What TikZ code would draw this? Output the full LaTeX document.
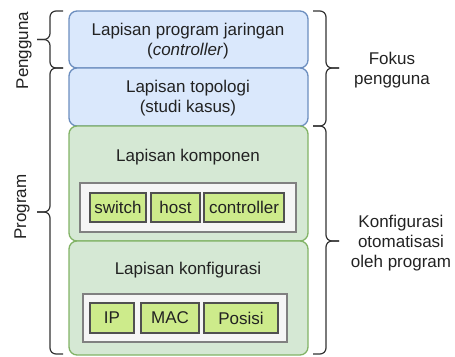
\documentclass[tikz,border=0pt]{standalone}
\usepackage{fontspec}
\setmainfont{Liberation Sans}
\definecolor{bluefill}{HTML}{DAE8FC}
\definecolor{blueline}{HTML}{6C8EBF}
\definecolor{greenfill}{HTML}{D5E8D4}
\definecolor{greenline}{HTML}{82B366}
\definecolor{grayfill}{HTML}{F5F5F5}
\definecolor{grayline}{HTML}{808080}
\definecolor{limefill}{HTML}{CDEB8B}
\definecolor{limeline}{HTML}{505050}
\definecolor{txt}{HTML}{222222}
\begin{document}
\begin{tikzpicture}[x=1pt,y=-1pt,
  every node/.style={text=txt, font=\fontsize{17}{20}\selectfont, inner sep=0pt},
  bluelayer/.style={draw=blueline, fill=bluefill, line width=1.3pt, rounded corners=8pt},
  greenlayer/.style={draw=greenline, fill=greenfill, line width=1.3pt, rounded corners=8pt},
  graybox/.style={draw=grayline, fill=grayfill, line width=1.6pt},
  item/.style={draw=limeline, fill=limefill, line width=1.4pt},
  bracepath/.style={draw=black!80, line width=1.2pt, rounded corners=6pt},
  label/.style={align=center}]
\useasboundingbox (0,0) rectangle (455,356);

% layers
\node[bluelayer, minimum width=239pt, minimum height=57pt] (l1) at (188.5,39.5) {};
\node[bluelayer, minimum width=239pt, minimum height=58pt] (l2) at (188.5,97) {};
\node[greenlayer, minimum width=239pt, minimum height=115pt] (l3) at (188.5,183.5) {};
\node[greenlayer, minimum width=239pt, minimum height=114pt] (l4) at (188.5,298) {};

\node[label] (t1) at (188,41) {Lapisan program jaringan\\(\textit{controller})};
\node[label] (t2) at (188,98) {Lapisan topologi\\(studi kasus)};
\node[label] (t3) at (188,157) {Lapisan komponen};
\node[label] (t4) at (188,270) {Lapisan konfigurasi};

% inner boxes
\node[graybox, minimum width=216pt, minimum height=49pt] (ga) at (188,207.5) {};
\node[graybox, minimum width=204pt, minimum height=48pt] (gb) at (185,318) {};

\node[item, minimum width=56pt, minimum height=29pt] (sw) at (118,207.5) {switch};
\node[item, minimum width=49pt, minimum height=29pt] (ho) at (175.5,207.5) {host};
\node[item, minimum width=80pt, minimum height=29pt] (co) at (244,207.5) {controller};

\node[item, minimum width=44pt, minimum height=30pt] (ip) at (112,318) {IP};
\node[item, minimum width=58pt, minimum height=30pt] (mac) at (170,318) {MAC};
\node[item, minimum width=74pt, minimum height=30pt] (pos) at (241,318) {Posisi};

% left braces
\draw[bracepath] (63,11) -- (50,11) -- (50,39.5) -- (37,39.5);
\draw[bracepath] (37,39.5) -- (50,39.5) -- (50,68) -- (63,68);
\draw[bracepath] (63,68) -- (50,68) -- (50,212) -- (37,212);
\draw[bracepath] (37,212) -- (50,212) -- (50,354) -- (63,354);

% right braces
\draw[bracepath] (313,11) -- (326,11) -- (326,68) -- (339,68);
\draw[bracepath] (339,68) -- (326,68) -- (326,126) -- (313,126);
\draw[bracepath] (313,126) -- (326,126) -- (326,241) -- (339,241);
\draw[bracepath] (339,241) -- (326,241) -- (326,354) -- (313,354);

% side labels
\node[rotate=90] (peng) at (24,50.5) {Pengguna};
\node[rotate=90] (prog) at (22,207) {Program};
\node[label] (fok) at (392,70) {Fokus\\pengguna};
\node[label] (konf) at (401,243) {Konfigurasi\\otomatisasi\\oleh program};
\end{tikzpicture}
\end{document}
